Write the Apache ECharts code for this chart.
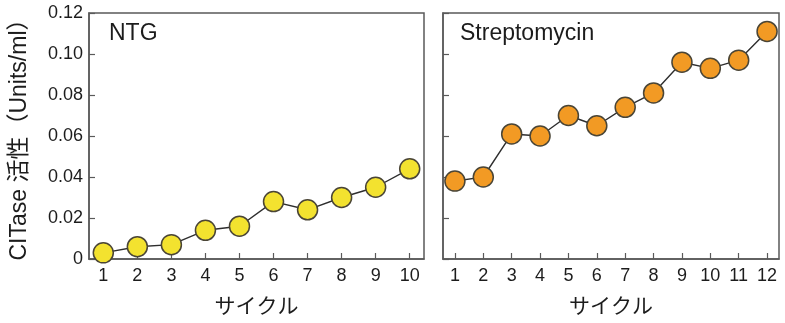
<!DOCTYPE html>
<html>
<head>
<meta charset="utf-8">
<script src="https://cdn.jsdelivr.net/npm/echarts@6/dist/echarts.min.js"></script>
<style>
  html, body { margin: 0; padding: 0; background: #fff; }
  #chart { width: 785px; height: 323px; }
</style>
</head>
<body>
<div id="chart"></div>
<script>
// CITase activity per cycle for the two mutagen treatments
const ntgCycles = [1, 2, 3, 4, 5, 6, 7, 8, 9, 10];
const ntgValues = [0.003, 0.006, 0.007, 0.014, 0.016, 0.028, 0.024, 0.030, 0.035, 0.044];

const strepCycles = [1, 2, 3, 4, 5, 6, 7, 8, 9, 10, 11, 12];
const strepValues = [0.038, 0.040, 0.061, 0.060, 0.070, 0.065, 0.074, 0.081, 0.096, 0.093, 0.097, 0.111];

const panelNames = ['NTG', 'Streptomycin'];
const yTitle = 'CITase 活性（Units/ml）';
const xTitle = 'サイクル';

const FONT = '"Liberation Sans", Arial, "Noto Sans CJK JP", sans-serif';
const JP_FONT = '"Liberation Sans", "Noto Sans CJK JP", sans-serif';
const INK = '#1c1c1c';
const FRAME = '#5a5a5a';

function pairs(xs, ys) {
  return xs.map((x, i) => [x, ys[i]]);
}

function xAxisFor(gridIndex, cycles) {
  return {
    type: 'value',
    gridIndex: gridIndex,
    min: cycles[0] - 0.42,
    max: cycles[cycles.length - 1] + 0.42,
    name: xTitle,
    nameLocation: 'middle',
    nameGap: 38,
    nameTextStyle: { fontFamily: JP_FONT, fontSize: 21, color: INK },
    axisLine: { show: true, onZero: false, lineStyle: { color: FRAME, width: 1.5 } },
    axisTick: { show: true, inside: true, length: 6, customValues: cycles, lineStyle: { color: FRAME, width: 1.2 } },
    axisLabel: { show: true, customValues: cycles, margin: 8, fontFamily: FONT, fontSize: 18, color: INK },
    splitLine: { show: false }
  };
}

function yAxisFor(gridIndex, showLabels) {
  return {
    type: 'value',
    gridIndex: gridIndex,
    min: 0,
    max: 0.12,
    interval: 0.02,
    axisLine: { show: true, onZero: false, lineStyle: { color: FRAME, width: 1.5 } },
    axisTick: { show: true, inside: true, length: 6, lineStyle: { color: FRAME, width: 1.2 } },
    axisLabel: {
      show: showLabels,
      margin: 6,
      fontFamily: FONT,
      fontSize: 18,
      color: INK,
      formatter: v => (v === 0 ? '0' : v.toFixed(2))
    },
    splitLine: { show: false }
  };
}

function seriesFor(index, cycles, values, fill) {
  return {
    type: 'line',
    xAxisIndex: index,
    yAxisIndex: index,
    data: pairs(cycles, values),
    symbol: 'circle',
    symbolSize: 20,
    lineStyle: { color: '#2e2e2e', width: 1.4 },
    itemStyle: { color: fill, borderColor: '#4a4536', borderWidth: 1.5 },
    emphasis: { disabled: true },
    animation: false,
    z: 3
  };
}

const chart = echarts.init(document.getElementById('chart'), null, { renderer: 'canvas' });

chart.setOption({
  animation: false,
  grid: [
    { left: 89, top: 13, width: 335, height: 248, show: true, borderColor: FRAME, borderWidth: 1.5, backgroundColor: 'transparent' },
    { left: 443, top: 13, width: 336, height: 248, show: true, borderColor: FRAME, borderWidth: 1.5, backgroundColor: 'transparent' }
  ],
  xAxis: [xAxisFor(0, ntgCycles), xAxisFor(1, strepCycles)],
  yAxis: [yAxisFor(0, true), yAxisFor(1, false)],
  title: [
    { text: panelNames[0], left: 104, top: 17, textStyle: { fontFamily: FONT, fontSize: 23, fontWeight: 'normal', color: INK } },
    { text: panelNames[1], left: 455, top: 17, textStyle: { fontFamily: FONT, fontSize: 23, fontWeight: 'normal', color: INK } }
  ],
  graphic: [
    {
      type: 'text',
      x: 20,
      y: 134,
      rotation: Math.PI / 2,
      style: {
        text: yTitle,
        fontFamily: JP_FONT,
        fontSize: 23,
        fill: INK,
        align: 'center',
        verticalAlign: 'middle'
      }
    }
  ],
  series: [
    seriesFor(0, ntgCycles, ntgValues, '#f3e22f'),
    seriesFor(1, strepCycles, strepValues, '#f29a24')
  ]
});
</script>
</body>
</html>
